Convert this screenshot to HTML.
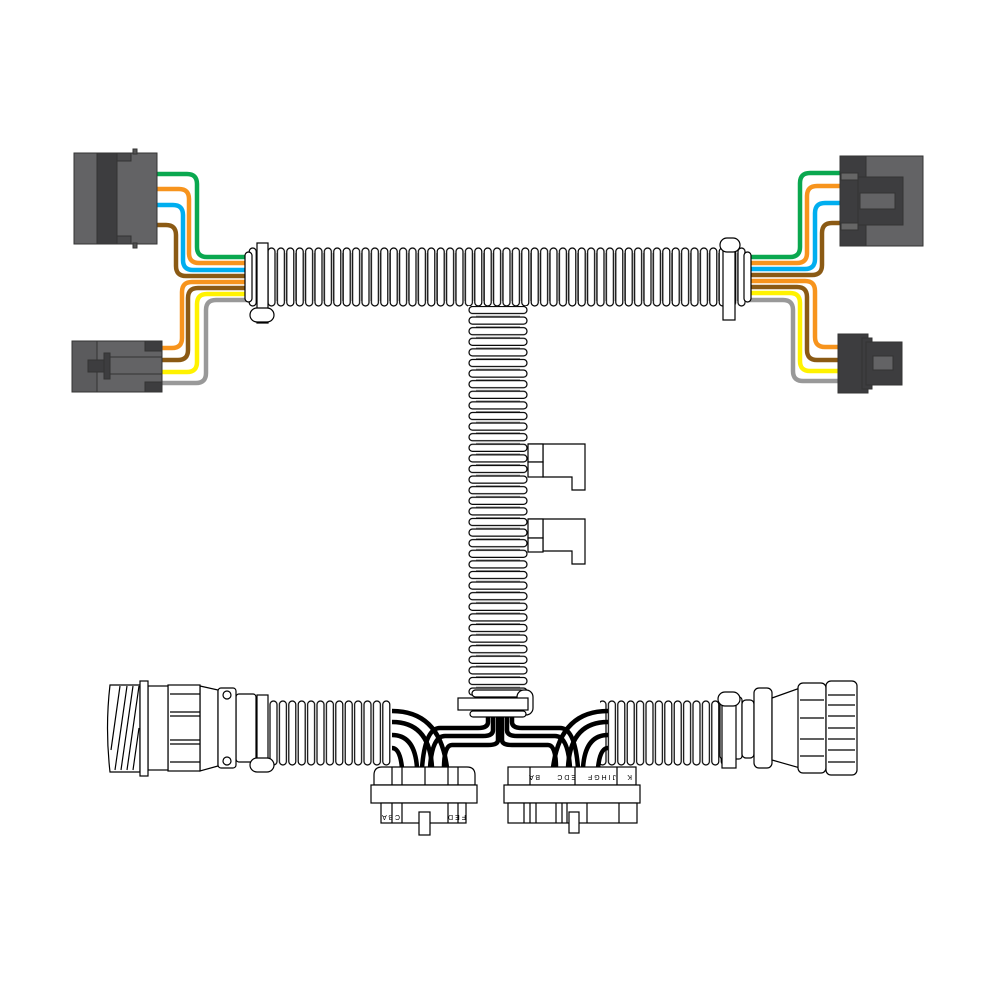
<!DOCTYPE html>
<html><head><meta charset="utf-8"><style>html,body{margin:0;padding:0;background:#fff}svg{display:block}</style></head>
<body>
<svg width="1000" height="1000" viewBox="0 0 1000 1000" xmlns="http://www.w3.org/2000/svg">
<defs>
<pattern id="hr" patternUnits="userSpaceOnUse" x="248" y="247" width="9.4" height="62">
<rect x="0" y="0" width="9.4" height="62" fill="#fff"/>
<line x1="0" y1="6" x2="0" y2="54" stroke="#999" stroke-width="1.5"/>
<rect x="1.2" y="1" width="7" height="58" rx="3.5" fill="#fff" stroke="#000" stroke-width="1.2"/>
</pattern>
<pattern id="hr2" patternUnits="userSpaceOnUse" x="250" y="700" width="9.4" height="66">
<rect x="0" y="0" width="9.4" height="66" fill="#fff"/>
<rect x="1.2" y="1" width="7" height="64" rx="3.5" fill="#fff" stroke="#000" stroke-width="1.2"/>
</pattern>
<pattern id="vr" patternUnits="userSpaceOnUse" x="468" y="305" width="60" height="10.6">
<rect x="0" y="0" width="60" height="10.6" fill="#fff"/>
<line x1="8" y1="0" x2="52" y2="0" stroke="#999" stroke-width="2"/>
<rect x="1" y="1.5" width="58" height="7" rx="3.5" fill="#fff" stroke="#000" stroke-width="1.2"/>
</pattern>
</defs>

<!-- top tube -->
<rect x="248" y="247" width="498" height="60" fill="url(#hr)"/>
<!-- vertical tube -->
<rect x="468" y="306" width="60" height="392" fill="url(#vr)"/>

<!-- side tabs -->
<g fill="#fff" stroke="#000" stroke-width="1.2">
<path d="M528,444 H585 V490 H572 V477 H543 V444 Z"/>
<rect x="528" y="444" width="15" height="18"/>
<rect x="528" y="462" width="15" height="15"/>
<path d="M528,519 H585 V564 H572 V551 H543 V519 Z"/>
<rect x="528" y="519" width="15" height="19"/>
<rect x="528" y="538" width="15" height="14"/>
</g>

<!-- wires TL -->
<g fill="none" stroke-width="4.5">
<path d="M157,174 H187 Q197,174 197,184 V247 Q197,257 207,257 H250" stroke="#0aa84f"/>
<path d="M157,189 H179 Q189,189 189,199 V253 Q189,263 199,263 H250" stroke="#f7941d"/>
<path d="M157,205 H173 Q183,205 183,215 V260 Q183,270 193,270 H250" stroke="#00aeef"/>
<path d="M157,225 H166 Q176,225 176,235 V266 Q176,276 186,276 H250" stroke="#8b5a14"/>
<path d="M162,348 H172 Q182,348 182,338 V292 Q182,282 192,282 H250" stroke="#f7941d"/>
<path d="M162,360 H178 Q188,360 188,350 V298 Q188,288 198,288 H250" stroke="#8b5a14"/>
<path d="M162,372 H187 Q197,372 197,362 V304 Q197,294 207,294 H250" stroke="#fff200"/>
<path d="M162,383 H196 Q206,383 206,373 V310 Q206,300 216,300 H250" stroke="#999"/>
<!-- wires right -->
<path d="M744,257 H790 Q800,257 800,247 V183 Q800,173 810,173 H840" stroke="#0aa84f"/>
<path d="M744,263 H797 Q807,263 807,253 V196 Q807,186 817,186 H840" stroke="#f7941d"/>
<path d="M744,269 H805 Q815,269 815,259 V213 Q815,203 825,203 H840" stroke="#00aeef"/>
<path d="M744,275 H812 Q822,275 822,265 V233 Q822,223 832,223 H840" stroke="#8b5a14"/>
<path d="M744,281 H805 Q815,281 815,291 V337 Q815,347 825,347 H840" stroke="#f7941d"/>
<path d="M744,287 H797 Q807,287 807,297 V350 Q807,360 817,360 H840" stroke="#8b5a14"/>
<path d="M744,293 H790 Q800,293 800,303 V361 Q800,371 810,371 H840" stroke="#fff200"/>
<path d="M744,300 H783 Q793,300 793,310 V371 Q793,381 803,381 H840" stroke="#999"/>
</g>

<!-- top left tube end collars & clamp -->
<g fill="#fff" stroke="#000" stroke-width="1.2">
<rect x="245" y="252" width="7" height="50" rx="3.5"/>
<rect x="257" y="243" width="11" height="80"/>
<rect x="250" y="308" width="24" height="14" rx="7"/>
<rect x="744" y="252" width="7" height="50" rx="3.5"/>
<rect x="723" y="245" width="12" height="75"/>
<rect x="720" y="238" width="20" height="14" rx="7"/>
</g>

<!-- TL connector -->
<g stroke="#333" stroke-width="1">
<rect x="74" y="153" width="83" height="91" fill="#636365"/>
<rect x="97" y="153" width="20" height="91" fill="#3d3d3f"/>
<rect x="117" y="153" width="14" height="8" fill="#4a4a4c"/>
<rect x="117" y="236" width="14" height="8" fill="#4a4a4c"/>
<rect x="133" y="149" width="4" height="5" fill="#555"/>
<rect x="133" y="243" width="4" height="5" fill="#555"/>
<!-- BL connector -->
<rect x="72" y="341" width="90" height="51" fill="#5b5b5d"/>
<rect x="97" y="341" width="65" height="51" fill="#636365"/>
<rect x="145" y="341" width="17" height="10" fill="#3d3d3f"/>
<rect x="145" y="382" width="17" height="10" fill="#3d3d3f"/>
<rect x="88" y="360" width="18" height="12" fill="#3d3d3f"/>
<rect x="104" y="353" width="6" height="26" fill="#3d3d3f"/>
<line x1="110" y1="357" x2="162" y2="357"/>
<line x1="110" y1="374" x2="162" y2="374"/>
<!-- TR connector -->
<rect x="840" y="156" width="83" height="90" fill="#636365"/>
<rect x="840" y="156" width="26" height="90" fill="#3d3d3f"/>
<rect x="841" y="173" width="17" height="7" fill="#666"/>
<rect x="841" y="223" width="17" height="7" fill="#666"/>
<rect x="858" y="177" width="45" height="48" fill="#3d3d3f"/>
<rect x="860" y="193" width="35" height="16" fill="#636365"/>
<!-- BR connector -->
<rect x="838" y="334" width="30" height="59" fill="#3d3d3f"/>
<rect x="862" y="338" width="10" height="51" fill="#3d3d3f"/>
<rect x="866" y="342" width="36" height="43" fill="#3d3d3f"/>
<rect x="873" y="356" width="20" height="14" fill="#636365"/>
</g>

<!-- bottom tubes -->
<rect x="250" y="700" width="141" height="66" fill="url(#hr2)"/>
<rect x="600" y="700" width="122" height="66" fill="url(#hr2)"/>

<!-- black wires -->
<g fill="none" stroke="#000" stroke-width="4.5">
<path d="M392,711 Q440,711 447,768"/>
<path d="M392,722 Q430,722 432,768"/>
<path d="M392,735 Q415,735 417,768"/>
<path d="M392,748 Q400,748 402,768"/>
<path d="M488,712 V722 Q488,728 478,728 H440 Q425,728 422,768"/>
<path d="M493,712 V730 Q493,736 483,736 H445 Q432,736 430,768"/>
<path d="M498,712 V740 Q498,745 488,745 H452 Q444,745 444,768"/>
<path d="M608,711 Q560,711 553,768"/>
<path d="M608,722 Q570,722 568,768"/>
<path d="M608,735 Q585,735 583,768"/>
<path d="M608,748 Q600,748 598,768"/>
<path d="M512,712 V722 Q512,728 522,728 H560 Q575,728 578,768"/>
<path d="M507,712 V730 Q507,736 517,736 H555 Q568,736 570,768"/>
<path d="M502,712 V740 Q502,745 512,745 H548 Q556,745 556,768"/>
</g>

<!-- vertical tube bottom collar & clamp -->
<g fill="#fff" stroke="#000" stroke-width="1.2">
<rect x="472" y="690" width="52" height="7" rx="3.5"/>
<rect x="517" y="690" width="16" height="25" rx="7"/>
<rect x="458" y="698" width="70" height="12"/>
<rect x="470" y="711" width="56" height="6" rx="3"/>
</g>

<!-- bottom connectors -->
<g fill="#fff" stroke="#000" stroke-width="1.2">
<path d="M374,785 V775 Q374,767 382,767 H467 Q475,767 475,775 V785 Z"/>
<line x1="392" y1="767" x2="392" y2="785"/><line x1="402" y1="767" x2="402" y2="785"/>
<line x1="425" y1="767" x2="425" y2="785"/><line x1="448" y1="767" x2="448" y2="785"/><line x1="458" y1="767" x2="458" y2="785"/>
<rect x="371" y="785" width="106" height="18"/>
<rect x="381" y="803" width="85" height="20"/>
<line x1="392" y1="803" x2="392" y2="823"/><line x1="402" y1="803" x2="402" y2="823"/>
<line x1="448" y1="803" x2="448" y2="823"/><line x1="458" y1="803" x2="458" y2="823"/>
<rect x="419" y="812" width="11" height="23"/>

<rect x="508" y="767" width="128" height="18"/>
<line x1="530" y1="767" x2="530" y2="785"/><line x1="575" y1="767" x2="575" y2="785"/><line x1="617" y1="767" x2="617" y2="785"/>
<rect x="504" y="785" width="136" height="18"/>
<rect x="508" y="803" width="129" height="20"/>
<line x1="524" y1="803" x2="524" y2="823"/><line x1="530" y1="803" x2="530" y2="823"/><line x1="536" y1="803" x2="536" y2="823"/>
<line x1="556" y1="803" x2="556" y2="823"/><line x1="562" y1="803" x2="562" y2="823"/><line x1="567" y1="803" x2="567" y2="823"/>
<line x1="587" y1="803" x2="587" y2="823"/><line x1="619" y1="803" x2="619" y2="823"/>
<rect x="569" y="812" width="10" height="21"/>
</g>
<g font-family="Liberation Sans, sans-serif" font-size="7" fill="#000">
<text x="506" y="775" transform="rotate(180 523 775)">B A</text>
<text x="540" y="775" transform="rotate(180 558 775)">E D C</text>
<text x="578" y="775" transform="rotate(180 597 775)">J I H G F</text>
<text x="620" y="775" transform="rotate(180 626 775)">K</text>
<text x="380" y="815" transform="rotate(180 390 815)">C B A</text>
<text x="450" y="815" transform="rotate(180 458 815)">F E D</text>
</g>

<!-- bottom-left round connector -->
<g fill="#fff" stroke="#000" stroke-width="1.2">
<rect x="236" y="694" width="20" height="68" rx="3"/>
<rect x="257" y="695" width="11" height="72"/>
<rect x="250" y="758" width="24" height="14" rx="7"/>
<path d="M200,686 L218,690 V766 L200,771 Z"/>
<rect x="218" y="688" width="18" height="80" rx="3"/>
<circle cx="227" cy="695" r="4"/><circle cx="227" cy="761" r="4"/>
<rect x="168" y="685" width="32" height="86"/>
<line x1="170" y1="694" x2="200" y2="694"/><line x1="170" y1="712" x2="200" y2="712"/>
<line x1="170" y1="716" x2="200" y2="716"/><line x1="170" y1="740" x2="200" y2="740"/>
<line x1="170" y1="744" x2="200" y2="744"/><line x1="170" y1="762" x2="200" y2="762"/>
<rect x="148" y="686" width="20" height="84"/>
<path d="M110,685 H140 V772 H110 Q105,728 110,685 Z"/>
<line x1="115" y1="770" x2="127" y2="686"/><line x1="121" y1="770" x2="133" y2="686"/>
<line x1="127" y1="770" x2="139" y2="686"/><line x1="111" y1="750" x2="120" y2="686"/>
<line x1="133" y1="770" x2="139" y2="728"/>
<rect x="140" y="681" width="8" height="95"/>
</g>

<!-- bottom-right round connector -->
<g fill="#fff" stroke="#000" stroke-width="1.2">
<rect x="720" y="697" width="22" height="62" rx="3"/>
<rect x="722" y="695" width="14" height="73"/>
<rect x="718" y="692" width="22" height="14" rx="7"/>
<rect x="742" y="700" width="12" height="58" rx="4"/>
<rect x="754" y="688" width="18" height="80" rx="5"/>
<path d="M772,698 L800,688 V768 L772,760 Z"/>
<rect x="798" y="683" width="28" height="90" rx="5"/>
<rect x="826" y="681" width="31" height="94" rx="5"/>
<line x1="800" y1="700" x2="824" y2="700"/><line x1="800" y1="718" x2="824" y2="718"/>
<line x1="800" y1="739" x2="824" y2="739"/><line x1="800" y1="756" x2="824" y2="756"/>
<line x1="828" y1="695" x2="855" y2="695"/><line x1="828" y1="705" x2="855" y2="705"/>
<line x1="828" y1="716" x2="855" y2="716"/><line x1="828" y1="728" x2="855" y2="728"/>
<line x1="828" y1="739" x2="855" y2="739"/><line x1="828" y1="750" x2="855" y2="750"/>
<line x1="828" y1="762" x2="855" y2="762"/>
</g>
</svg>
</body></html>
